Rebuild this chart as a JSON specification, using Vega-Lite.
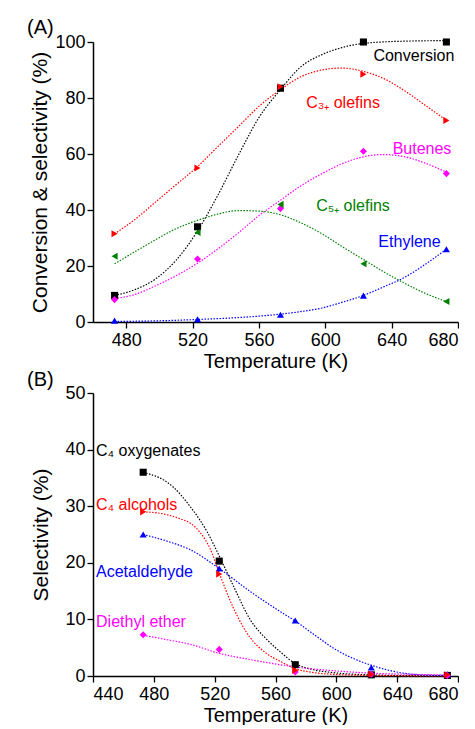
{
  "$schema": "https://vega.github.io/schema/vega-lite/v6.json",
  "background": "white",
  "padding": {"left": 27, "top": 18, "right": 0, "bottom": 0},
  "spacing": -1,
  "config": {
    "view": {"stroke": null},
    "font": "Liberation Sans",
    "axis": {
      "grid": false,
      "domainColor": "#000",
      "domainWidth": 1.5,
      "tickColor": "#000",
      "tickWidth": 1.3,
      "labelColor": "#000",
      "titleColor": "#000",
      "labelFont": "Liberation Sans",
      "titleFont": "Liberation Sans",
      "labelFontSize": 18,
      "titleFontSize": 20,
      "titleFontWeight": "normal"
    },
    "title": {"font": "Liberation Sans", "fontSize": 20, "fontWeight": "normal", "color": "#000"}
  },
  "datasets": {
    "pointsA": [
      {"series": "Conversion", "T": 473, "v": 9.5},
      {"series": "Conversion", "T": 523, "v": 34},
      {"series": "Conversion", "T": 573, "v": 83.5},
      {"series": "Conversion", "T": 623, "v": 100},
      {"series": "Conversion", "T": 673, "v": 100},
      {"series": "C3+ olefins", "T": 473, "v": 31.5},
      {"series": "C3+ olefins", "T": 523, "v": 55},
      {"series": "C3+ olefins", "T": 573, "v": 84},
      {"series": "C3+ olefins", "T": 623, "v": 88.5},
      {"series": "C3+ olefins", "T": 673, "v": 72},
      {"series": "Butenes", "T": 473, "v": 8},
      {"series": "Butenes", "T": 523, "v": 22.5},
      {"series": "Butenes", "T": 573, "v": 40.5},
      {"series": "Butenes", "T": 623, "v": 61},
      {"series": "Butenes", "T": 673, "v": 53},
      {"series": "C5+ olefins", "T": 473, "v": 23.5},
      {"series": "C5+ olefins", "T": 523, "v": 32},
      {"series": "C5+ olefins", "T": 573, "v": 42},
      {"series": "C5+ olefins", "T": 623, "v": 20.8},
      {"series": "C5+ olefins", "T": 673, "v": 7.3},
      {"series": "Ethylene", "T": 473, "v": 0.5},
      {"series": "Ethylene", "T": 523, "v": 1},
      {"series": "Ethylene", "T": 573, "v": 2.6},
      {"series": "Ethylene", "T": 623, "v": 9.4},
      {"series": "Ethylene", "T": 673, "v": 26}
    ],
    "curvesA": [
      {"series": "Conversion", "T": 473, "v": 9.5},
      {"series": "Conversion", "T": 485, "v": 11.5},
      {"series": "Conversion", "T": 498, "v": 15.5},
      {"series": "Conversion", "T": 510, "v": 22},
      {"series": "Conversion", "T": 523, "v": 32.5},
      {"series": "Conversion", "T": 535, "v": 45},
      {"series": "Conversion", "T": 548, "v": 60},
      {"series": "Conversion", "T": 560, "v": 73},
      {"series": "Conversion", "T": 573, "v": 83},
      {"series": "Conversion", "T": 585, "v": 91},
      {"series": "Conversion", "T": 598, "v": 95.5},
      {"series": "Conversion", "T": 610, "v": 98},
      {"series": "Conversion", "T": 623, "v": 99.5},
      {"series": "Conversion", "T": 648, "v": 100.3},
      {"series": "Conversion", "T": 673, "v": 100.5},
      {"series": "C3+ olefins", "T": 473, "v": 31.5},
      {"series": "C3+ olefins", "T": 485, "v": 36.5},
      {"series": "C3+ olefins", "T": 498, "v": 43},
      {"series": "C3+ olefins", "T": 510, "v": 49},
      {"series": "C3+ olefins", "T": 523, "v": 55.5},
      {"series": "C3+ olefins", "T": 535, "v": 62.5},
      {"series": "C3+ olefins", "T": 548, "v": 70},
      {"series": "C3+ olefins", "T": 560, "v": 77},
      {"series": "C3+ olefins", "T": 573, "v": 83},
      {"series": "C3+ olefins", "T": 585, "v": 87.5},
      {"series": "C3+ olefins", "T": 598, "v": 90},
      {"series": "C3+ olefins", "T": 610, "v": 90.7},
      {"series": "C3+ olefins", "T": 623, "v": 89.5},
      {"series": "C3+ olefins", "T": 635, "v": 87},
      {"series": "C3+ olefins", "T": 648, "v": 82.5},
      {"series": "C3+ olefins", "T": 660, "v": 77.5},
      {"series": "C3+ olefins", "T": 673, "v": 72},
      {"series": "Butenes", "T": 473, "v": 8.3},
      {"series": "Butenes", "T": 485, "v": 9.8},
      {"series": "Butenes", "T": 498, "v": 13},
      {"series": "Butenes", "T": 510, "v": 16.5},
      {"series": "Butenes", "T": 523, "v": 21},
      {"series": "Butenes", "T": 535, "v": 26},
      {"series": "Butenes", "T": 548, "v": 32},
      {"series": "Butenes", "T": 560, "v": 38},
      {"series": "Butenes", "T": 573, "v": 43.5},
      {"series": "Butenes", "T": 585, "v": 48.5},
      {"series": "Butenes", "T": 598, "v": 53},
      {"series": "Butenes", "T": 610, "v": 56.5},
      {"series": "Butenes", "T": 623, "v": 59},
      {"series": "Butenes", "T": 635, "v": 59.8},
      {"series": "Butenes", "T": 648, "v": 59},
      {"series": "Butenes", "T": 660, "v": 56.8},
      {"series": "Butenes", "T": 673, "v": 53.5},
      {"series": "C5+ olefins", "T": 473, "v": 20.8},
      {"series": "C5+ olefins", "T": 485, "v": 25},
      {"series": "C5+ olefins", "T": 498, "v": 29.5},
      {"series": "C5+ olefins", "T": 510, "v": 33.3},
      {"series": "C5+ olefins", "T": 523, "v": 36.3},
      {"series": "C5+ olefins", "T": 535, "v": 38.5},
      {"series": "C5+ olefins", "T": 548, "v": 39.8},
      {"series": "C5+ olefins", "T": 560, "v": 39.6},
      {"series": "C5+ olefins", "T": 573, "v": 38.3},
      {"series": "C5+ olefins", "T": 585, "v": 35.5},
      {"series": "C5+ olefins", "T": 598, "v": 31.5},
      {"series": "C5+ olefins", "T": 610, "v": 27},
      {"series": "C5+ olefins", "T": 623, "v": 22.3},
      {"series": "C5+ olefins", "T": 635, "v": 18},
      {"series": "C5+ olefins", "T": 648, "v": 13.8},
      {"series": "C5+ olefins", "T": 660, "v": 10.3},
      {"series": "C5+ olefins", "T": 673, "v": 7.3},
      {"series": "Ethylene", "T": 473, "v": 0.2},
      {"series": "Ethylene", "T": 498, "v": 0.4},
      {"series": "Ethylene", "T": 523, "v": 0.9},
      {"series": "Ethylene", "T": 548, "v": 1.6},
      {"series": "Ethylene", "T": 573, "v": 2.8},
      {"series": "Ethylene", "T": 585, "v": 3.7},
      {"series": "Ethylene", "T": 598, "v": 5},
      {"series": "Ethylene", "T": 610, "v": 7},
      {"series": "Ethylene", "T": 623, "v": 9.5},
      {"series": "Ethylene", "T": 635, "v": 12.5},
      {"series": "Ethylene", "T": 648, "v": 16},
      {"series": "Ethylene", "T": 660, "v": 20.5},
      {"series": "Ethylene", "T": 673, "v": 26}
    ],
    "labelsA": [
      {"series": "Conversion", "T": 629, "v": 95, "label": "Conversion"},
      {"series": "C3+ olefins", "T": 588.5, "v": 78.2, "label": "C₃₊ olefins"},
      {"series": "Butenes", "T": 640.6, "v": 61.8, "label": "Butenes"},
      {"series": "C5+ olefins", "T": 594.5, "v": 41.4, "label": "C₅₊ olefins"},
      {"series": "Ethylene", "T": 632, "v": 28.6, "label": "Ethylene"}
    ],
    "pointsB": [
      {"series": "C4 oxygenates", "T": 473, "v": 36},
      {"series": "C4 oxygenates", "T": 523, "v": 20.3},
      {"series": "C4 oxygenates", "T": 573, "v": 2},
      {"series": "C4 oxygenates", "T": 623, "v": 0.2},
      {"series": "C4 oxygenates", "T": 673, "v": 0.1},
      {"series": "Acetaldehyde", "T": 473, "v": 25},
      {"series": "Acetaldehyde", "T": 523, "v": 19},
      {"series": "Acetaldehyde", "T": 573, "v": 9.8},
      {"series": "Acetaldehyde", "T": 623, "v": 1.5},
      {"series": "Acetaldehyde", "T": 673, "v": 0.3},
      {"series": "Diethyl ether", "T": 473, "v": 7.3},
      {"series": "Diethyl ether", "T": 523, "v": 4.7},
      {"series": "Diethyl ether", "T": 573, "v": 0.7},
      {"series": "Diethyl ether", "T": 623, "v": 0.3},
      {"series": "Diethyl ether", "T": 673, "v": 0.1},
      {"series": "C4 alcohols", "T": 473, "v": 29},
      {"series": "C4 alcohols", "T": 523, "v": 18},
      {"series": "C4 alcohols", "T": 573, "v": 1},
      {"series": "C4 alcohols", "T": 623, "v": 0.3},
      {"series": "C4 alcohols", "T": 673, "v": 0.2}
    ],
    "curvesB": [
      {"series": "C4 oxygenates", "T": 473, "v": 36},
      {"series": "C4 oxygenates", "T": 492.7, "v": 33.4},
      {"series": "C4 oxygenates", "T": 504, "v": 29.9},
      {"series": "C4 oxygenates", "T": 515, "v": 25.5},
      {"series": "C4 oxygenates", "T": 523.7, "v": 20.8},
      {"series": "C4 oxygenates", "T": 532.5, "v": 15.8},
      {"series": "C4 oxygenates", "T": 543.5, "v": 9.9},
      {"series": "C4 oxygenates", "T": 554.5, "v": 6.4},
      {"series": "C4 oxygenates", "T": 563, "v": 4.3},
      {"series": "C4 oxygenates", "T": 573, "v": 2.2},
      {"series": "C4 oxygenates", "T": 585, "v": 1.1},
      {"series": "C4 oxygenates", "T": 598, "v": 0.6},
      {"series": "C4 oxygenates", "T": 623, "v": 0.2},
      {"series": "C4 oxygenates", "T": 673, "v": 0},
      {"series": "C4 alcohols", "T": 473, "v": 29},
      {"series": "C4 alcohols", "T": 485, "v": 28.7},
      {"series": "C4 alcohols", "T": 498, "v": 27.7},
      {"series": "C4 alcohols", "T": 504, "v": 27},
      {"series": "C4 alcohols", "T": 510, "v": 25.5},
      {"series": "C4 alcohols", "T": 517, "v": 22.5},
      {"series": "C4 alcohols", "T": 523, "v": 18.2},
      {"series": "C4 alcohols", "T": 532, "v": 12.2},
      {"series": "C4 alcohols", "T": 543, "v": 6.9},
      {"series": "C4 alcohols", "T": 554, "v": 4},
      {"series": "C4 alcohols", "T": 563, "v": 2.6},
      {"series": "C4 alcohols", "T": 573, "v": 1.3},
      {"series": "C4 alcohols", "T": 585, "v": 0.6},
      {"series": "C4 alcohols", "T": 598, "v": 0.3},
      {"series": "C4 alcohols", "T": 623, "v": 0.1},
      {"series": "C4 alcohols", "T": 673, "v": 0},
      {"series": "Acetaldehyde", "T": 473, "v": 25},
      {"series": "Acetaldehyde", "T": 489, "v": 23.8},
      {"series": "Acetaldehyde", "T": 504, "v": 22.3},
      {"series": "Acetaldehyde", "T": 523, "v": 19},
      {"series": "Acetaldehyde", "T": 543.5, "v": 14.9},
      {"series": "Acetaldehyde", "T": 563, "v": 11.4},
      {"series": "Acetaldehyde", "T": 573, "v": 9.7},
      {"series": "Acetaldehyde", "T": 587, "v": 7},
      {"series": "Acetaldehyde", "T": 600, "v": 4.6},
      {"series": "Acetaldehyde", "T": 612, "v": 3},
      {"series": "Acetaldehyde", "T": 623, "v": 1.9},
      {"series": "Acetaldehyde", "T": 644, "v": 0.5},
      {"series": "Acetaldehyde", "T": 660, "v": 0.15},
      {"series": "Acetaldehyde", "T": 673, "v": 0.1},
      {"series": "Diethyl ether", "T": 473, "v": 7.2},
      {"series": "Diethyl ether", "T": 489, "v": 6.4},
      {"series": "Diethyl ether", "T": 504, "v": 5.6},
      {"series": "Diethyl ether", "T": 523, "v": 4.0},
      {"series": "Diethyl ether", "T": 543.5, "v": 2.9},
      {"series": "Diethyl ether", "T": 563, "v": 2.0},
      {"series": "Diethyl ether", "T": 573, "v": 1.6},
      {"series": "Diethyl ether", "T": 600, "v": 0.9},
      {"series": "Diethyl ether", "T": 623, "v": 0.5},
      {"series": "Diethyl ether", "T": 648, "v": 0.3},
      {"series": "Diethyl ether", "T": 673, "v": 0.2}
    ],
    "labelsB": [
      {"series": "C4 oxygenates", "T": 442, "v": 39.8, "label": "C₄ oxygenates"},
      {"series": "C4 alcohols", "T": 442, "v": 30.2, "label": "C₄ alcohols"},
      {"series": "Acetaldehyde", "T": 442, "v": 18.4, "label": "Acetaldehyde"},
      {"series": "Diethyl ether", "T": 442, "v": 9.5, "label": "Diethyl ether"}
    ]
  },
  "vconcat": [
    {
      "width": 365,
      "height": 280,
      "title": {"text": "(A)", "anchor": "start", "frame": "group", "dx": -66, "dy": 27, "offset": 6, "baseline": "alphabetic"},
      "layer": [
        {
          "data": {"name": "curvesA"},
          "mark": {"type": "line", "interpolate": "monotone", "strokeDash": [1.5, 1.5], "strokeWidth": 1.2},
          "encoding": {
            "x": {"field": "T", "type": "quantitative", "scale": {"domain": [460, 680], "nice": false, "zero": false},
                  "axis": {"values": [480, 500, 520, 540, 560, 580, 600, 620, 640, 660, 680], "labelExpr": "datum.value % 40 === 0 ? datum.label : ''",
                           "tickSize": {"condition": {"test": "datum.value % 40 === 0", "value": 6}, "value": 3},
                           "title": "Temperature (K)", "labelPadding": 3, "titlePadding": 2}},
            "y": {"field": "v", "type": "quantitative", "scale": {"domain": [0, 100], "nice": false},
                  "axis": {"values": [0, 10, 20, 30, 40, 50, 60, 70, 80, 90, 100], "labelExpr": "datum.value % 20 === 0 ? datum.label : ''",
                           "tickSize": {"condition": {"test": "datum.value % 20 === 0", "value": 6}, "value": 3},
                           "title": "Conversion & selectivity (%)", "titleFontSize": 21, "labelPadding": 2, "titlePadding": 4}},
            "color": {"field": "series", "type": "nominal", "legend": null,
                      "scale": {"domain": ["Conversion", "C3+ olefins", "Butenes", "C5+ olefins", "Ethylene", "C4 oxygenates", "C4 alcohols", "Acetaldehyde", "Diethyl ether"],
                                "range": ["#000000", "#ff0000", "#ff00ff", "#008000", "#0000ff", "#000000", "#ff0000", "#0000ff", "#ff00ff"]}},
            "detail": {"field": "series"}
          }
        },
        {
          "data": {"name": "pointsA"},
          "mark": {"type": "point", "filled": true, "opacity": 1, "size": 50},
          "encoding": {
            "x": {"field": "T", "type": "quantitative"},
            "y": {"field": "v", "type": "quantitative"},
            "color": {"field": "series", "type": "nominal", "legend": null},
            "shape": {"field": "series", "type": "nominal", "legend": null,
                      "scale": {"domain": ["Conversion", "C3+ olefins", "Butenes", "C5+ olefins", "Ethylene", "C4 oxygenates", "C4 alcohols", "Acetaldehyde", "Diethyl ether"],
                                "range": ["square", "triangle-right", "diamond", "triangle-left", "triangle-up", "square", "triangle-right", "triangle-up", "diamond"]}}
          }
        },
        {
          "data": {"name": "labelsA"},
          "mark": {"type": "text", "align": "left", "baseline": "middle", "fontSize": 16, "font": "Liberation Sans"},
          "encoding": {
            "x": {"field": "T", "type": "quantitative"},
            "y": {"field": "v", "type": "quantitative"},
            "text": {"field": "label"},
            "color": {"field": "series", "type": "nominal", "legend": null}
          }
        }
      ]
    },
    {
      "width": 365,
      "height": 283,
      "title": {"text": "(B)", "anchor": "start", "frame": "group", "dx": -66, "dy": 25, "offset": 3, "baseline": "alphabetic"},
      "layer": [
        {
          "data": {"name": "curvesB"},
          "mark": {"type": "line", "interpolate": "monotone", "strokeDash": [1.5, 1.5], "strokeWidth": 1.2},
          "encoding": {
            "x": {"field": "T", "type": "quantitative", "scale": {"domain": [440, 680], "nice": false, "zero": false},
                  "axis": {"values": [440, 460, 480, 500, 520, 540, 560, 580, 600, 620, 640, 660, 680], "labelExpr": "datum.value % 40 === 0 ? datum.label : ''",
                           "tickSize": {"condition": {"test": "datum.value % 40 === 0", "value": 6}, "value": 3},
                           "title": "Temperature (K)", "labelPadding": 3, "titlePadding": 2}},
            "y": {"field": "v", "type": "quantitative", "scale": {"domain": [0, 50], "nice": false},
                  "axis": {"values": [0, 5, 10, 15, 20, 25, 30, 35, 40, 45, 50], "labelExpr": "datum.value % 10 === 0 ? datum.label : ''",
                           "tickSize": {"condition": {"test": "datum.value % 10 === 0", "value": 6}, "value": 3},
                           "title": "Selectivity (%)", "titleFontSize": 21, "labelPadding": 2, "titlePadding": 13}},
            "color": {"field": "series", "type": "nominal", "legend": null},
            "detail": {"field": "series"}
          }
        },
        {
          "data": {"name": "pointsB"},
          "mark": {"type": "point", "filled": true, "opacity": 1, "size": 50},
          "encoding": {
            "x": {"field": "T", "type": "quantitative"},
            "y": {"field": "v", "type": "quantitative"},
            "color": {"field": "series", "type": "nominal", "legend": null},
            "shape": {"field": "series", "type": "nominal", "legend": null}
          }
        },
        {
          "data": {"name": "labelsB"},
          "mark": {"type": "text", "align": "left", "baseline": "middle", "fontSize": 16, "font": "Liberation Sans"},
          "encoding": {
            "x": {"field": "T", "type": "quantitative"},
            "y": {"field": "v", "type": "quantitative"},
            "text": {"field": "label"},
            "color": {"field": "series", "type": "nominal", "legend": null}
          }
        }
      ]
    }
  ]
}
